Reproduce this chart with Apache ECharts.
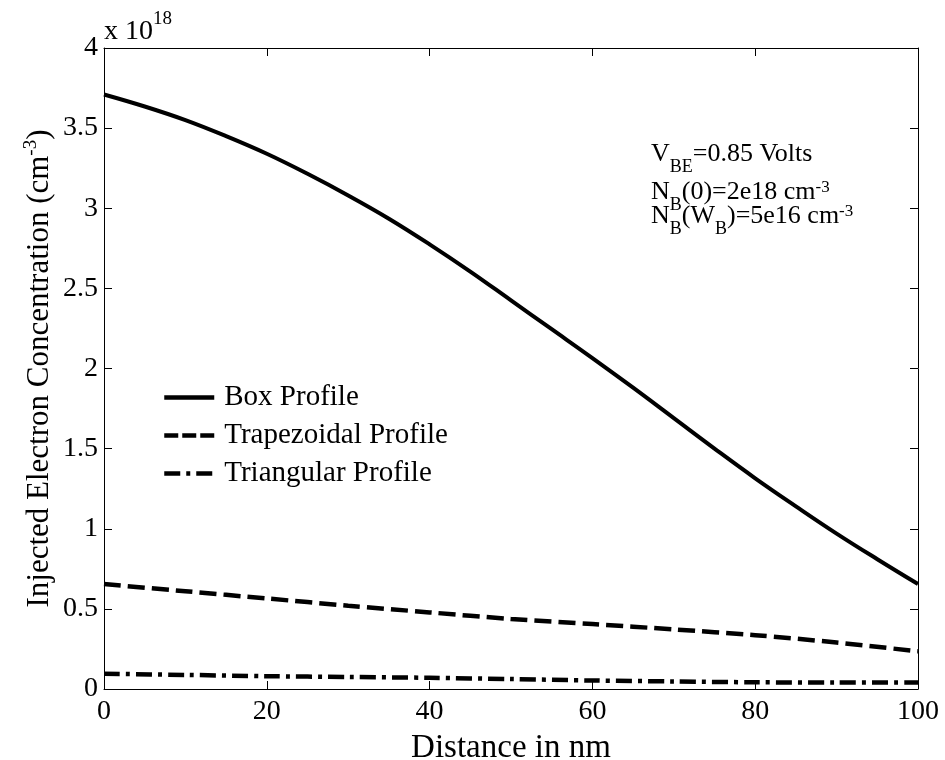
<!DOCTYPE html>
<html>
<head>
<meta charset="utf-8">
<script src="https://cdn.jsdelivr.net/npm/echarts@6/dist/echarts.min.js"></script>
<style>
  html, body { margin: 0; padding: 0; background: #fff; }
  #chart { width: 945px; height: 760px; }
</style>
</head>
<body>
<div id="chart"></div>
<script>
// Injected electron concentration (units of 1e18 cm^-3) across the base
const distanceFine = [0, 5, 10, 15, 20, 25, 30, 35, 40, 45, 50, 55, 60, 65, 70, 75, 80, 85, 90, 95, 100];
const boxProfile = [3.71, 3.635, 3.55, 3.45, 3.34, 3.215, 3.08, 2.935, 2.775, 2.605, 2.425, 2.245, 2.065, 1.88, 1.69, 1.50, 1.315, 1.14, 0.97, 0.81, 0.655];

const distanceCoarse = [0, 10, 20, 30, 40, 50, 60, 70, 80, 90, 100];
const trapezoidalProfile = [0.655, 0.61, 0.565, 0.52, 0.478, 0.437, 0.405, 0.372, 0.336, 0.29, 0.235];
const triangularProfile = [0.095, 0.088, 0.080, 0.075, 0.070, 0.062, 0.053, 0.047, 0.042, 0.040, 0.040];

const seriesNames = ['Box Profile', 'Trapezoidal Profile', 'Triangular Profile'];
const xTicks = { min: 0, max: 100, step: 20 };
const yTicks = { min: 0, max: 4, step: 0.5 };

const FONT = '"Liberation Serif", "Times New Roman", serif';

function pairs(xs, ys) {
  return xs.map((x, i) => [x, ys[i]]);
}

const chart = echarts.init(document.getElementById('chart'), null, { renderer: 'canvas' });

const axisLineStyle = { color: '#000', width: 1 };
const tickStyle = { show: true, inside: true, length: 8, lineStyle: { color: '#000', width: 1 } };

// line styles per profile, shared by the plotted curves and the legend keys
const curveStyles = [
  { color: '#000', width: 4, type: 'solid' },
  { color: '#000', width: 4.5, type: [17, 7], cap: 'butt' },
  { color: '#000', width: 4.5, type: [16, 6, 4, 6], cap: 'butt' }
];
const legendDash = ['solid', [14, 4], [16, 6, 4, 6]];

// annotation text styles: main, subscript, superscript
const annoRich = {
  m: { fontFamily: FONT, fontSize: 26, color: '#000', lineHeight: 27 },
  s: { fontFamily: FONT, fontSize: 18, color: '#000', lineHeight: 18, padding: [26, 0, 0, 0] },
  p: { fontFamily: FONT, fontSize: 17, color: '#000', lineHeight: 17, padding: [0, 0, 8, 0] }
};

chart.setOption({
  backgroundColor: '#fff',
  animation: false,
  grid: { left: 104, right: 27, top: 48, bottom: 71, containLabel: false, outerBoundsMode: 'none' },
  xAxis: [
    {
      type: 'value', min: xTicks.min, max: xTicks.max, interval: xTicks.step,
      name: 'Distance in nm', nameLocation: 'middle', nameGap: 43, nameMoveOverlap: false,
      nameTextStyle: { fontFamily: FONT, fontSize: 33, color: '#000' },
      axisLine: { show: true, lineStyle: axisLineStyle },
      axisTick: tickStyle,
      axisLabel: { fontFamily: FONT, fontSize: 28, color: '#000', margin: 9 },
      splitLine: { show: false }
    },
    {
      type: 'value', position: 'top', min: xTicks.min, max: xTicks.max, interval: xTicks.step,
      axisLine: { show: true, onZero: false, lineStyle: axisLineStyle },
      axisTick: tickStyle, axisLabel: { show: false }, splitLine: { show: false }
    }
  ],
  yAxis: [
    {
      type: 'value', min: yTicks.min, max: yTicks.max, interval: yTicks.step,
      name: '{n|Injected Electron Concentration (cm}{s|-3}{n|)}',
      nameLocation: 'middle', nameGap: 49, nameRotate: 90, nameMoveOverlap: false,
      nameTextStyle: {
        rich: {
          n: { fontFamily: FONT, fontSize: 31, color: '#000', lineHeight: 31 },
          s: { fontFamily: FONT, fontSize: 19, color: '#000', lineHeight: 19, padding: [0, 0, 16, 0] }
        }
      },
      axisLine: { show: true, lineStyle: axisLineStyle },
      axisTick: tickStyle,
      axisLabel: { fontFamily: FONT, fontSize: 28, color: '#000', margin: 6 },
      splitLine: { show: false }
    },
    {
      type: 'value', position: 'right', min: yTicks.min, max: yTicks.max, interval: yTicks.step,
      axisLine: { show: true, onZero: false, lineStyle: axisLineStyle },
      axisTick: tickStyle, axisLabel: { show: false }, splitLine: { show: false }
    }
  ],
  legend: {
    orient: 'vertical', left: 162, top: 383, padding: 0,
    itemWidth: 50, itemHeight: 14, itemGap: 9,
    data: seriesNames.map((name, i) => ({
      name,
      itemStyle: { opacity: 0 },
      lineStyle: { color: '#000', width: 4.5, type: legendDash[i], cap: 'butt' }
    })),
    textStyle: { fontFamily: FONT, fontSize: 29, color: '#000', lineHeight: 27, padding: [0, 0, 0, 5] },
    selectedMode: false
  },
  series: seriesNames.map((name, i) => ({
    name,
    type: 'line',
    data: i === 0 ? pairs(distanceFine, boxProfile)
        : i === 1 ? pairs(distanceCoarse, trapezoidalProfile)
        : pairs(distanceCoarse, triangularProfile),
    smooth: i === 0 ? 0.4 : 0.3,
    symbol: 'none', showSymbol: false,
    lineStyle: curveStyles[i],
    itemStyle: { color: '#000' }
  })),
  graphic: [
    {
      type: 'text', left: 104, top: 10, z: 10,
      style: {
        text: '{a|x 10}{b|18}',
        rich: {
          a: { fontFamily: FONT, fontSize: 28, color: '#000', lineHeight: 28 },
          b: { fontFamily: FONT, fontSize: 19, color: '#000', lineHeight: 19, padding: [0, 0, 24, 0] }
        }
      }
    },
    {
      type: 'text', left: 651, top: 132, z: 10,
      style: { text: '{m|V}{s|BE}{m|=0.85 Volts}', rich: annoRich }
    },
    {
      type: 'text', left: 651, top: 170, z: 10,
      style: { text: '{m|N}{s|B}{m|(0)=2e18 cm}{p|-3}', rich: annoRich }
    },
    {
      type: 'text', left: 651, top: 194, z: 10,
      style: { text: '{m|N}{s|B}{m|(W}{s|B}{m|)=5e16 cm}{p|-3}', rich: annoRich }
    }
  ]
});
</script>
</body>
</html>
